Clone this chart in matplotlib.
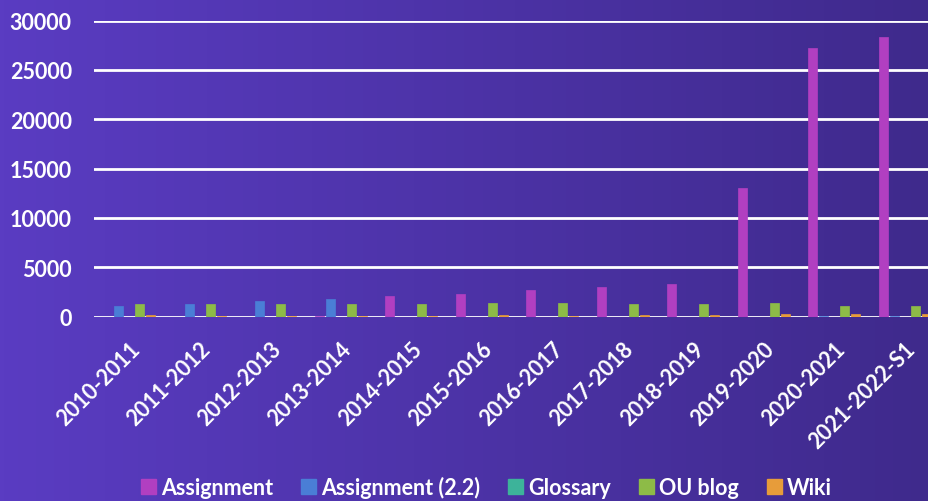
import matplotlib
matplotlib.use("Agg")
import matplotlib.pyplot as plt
import numpy as np
from matplotlib.colors import LinearSegmentedColormap
from matplotlib.patches import Patch

years = ["2010-2011", "2011-2012", "2012-2013", "2013-2014", "2014-2015", "2015-2016",
         "2016-2017", "2017-2018", "2018-2019", "2019-2020", "2020-2021", "2021-2022-S1"]

series_names = ["Assignment", "Assignment (2.2)", "Glossary", "OU blog", "Wiki"]

assignment = [0, 0, 0, 40, 2050, 2250, 2650, 2950, 3250, 13050, 27200, 28300]
assignment_22 = [1100, 1230, 1550, 1750, 0, 0, 0, 0, 0, 0, 50, 50]
glossary = [0, 0, 0, 0, 0, 0, 0, 0, 0, 0, 0, 0]
ou_blog = [1250, 1250, 1300, 1300, 1300, 1350, 1350, 1250, 1250, 1350, 1100, 1100]
wiki = [150, 80, 100, 100, 100, 120, 80, 200, 200, 250, 250, 250]

colours = ["#b13fc1", "#4a7ed6", "#3db39a", "#8dbb47", "#e79c3a"]

plt.rcParams['font.family'] = ['Lato', 'DejaVu Sans']

fig = plt.figure(figsize=(9.29, 5.02), dpi=100)

# purple gradient background
bg = fig.add_axes([0, 0, 1, 1], zorder=-10)
grad = np.linspace(0, 1, 256).reshape(1, -1)
cmap = LinearSegmentedColormap.from_list("bg", ["#5a3cc2", "#3f2a8c"])
bg.imshow(grad, aspect="auto", cmap=cmap, extent=[0, 1, 0, 1])
bg.axis("off")

ax = fig.add_axes([94 / 929, 184.5 / 502, 846 / 929, 295.8 / 502])
ax.set_facecolor("none")

x = np.arange(len(years))
step = 0.152
width = 0.128
all_series = [assignment, assignment_22, glossary, ou_blog, wiki]
for i, vals in enumerate(all_series):
    ax.bar(x + (i - 2) * step, vals, width, color=colours[i], zorder=3,
           edgecolor=colours[i], linewidth=0.5)

ax.set_xlim(-0.5, len(years) - 0.5)
ax.set_ylim(0, 30000)
ax.set_yticks(range(0, 30001, 5000))
ax.yaxis.grid(True, color="white", linewidth=2, zorder=1)
ax.set_axisbelow(True)
for s in ax.spines.values():
    s.set_visible(False)
ax.tick_params(length=0, colors="white")
ax.tick_params(axis="y", pad=16)
ax.tick_params(axis="x", pad=15)
ax.set_xticks(x)
ax.set_xticklabels(years, rotation=45, ha="right", rotation_mode="anchor")
for lab in ax.get_xticklabels() + ax.get_yticklabels():
    lab.set_fontsize(15.5)
    lab.set_fontweight("bold")
    lab.set_color("white")

handles = [Patch(facecolor=c, edgecolor=c) for c in colours]
leg = fig.legend(handles, series_names, loc="center", bbox_to_anchor=(0.5237, 0.028),
                 ncol=5, frameon=False, handlelength=0.68, handleheight=0.68,
                 handletextpad=0.25, columnspacing=1.3,
                 prop={"size": 15.5, "weight": "bold"})
for t in leg.get_texts():
    t.set_color("white")

fig.savefig("out.png", dpi=100)
